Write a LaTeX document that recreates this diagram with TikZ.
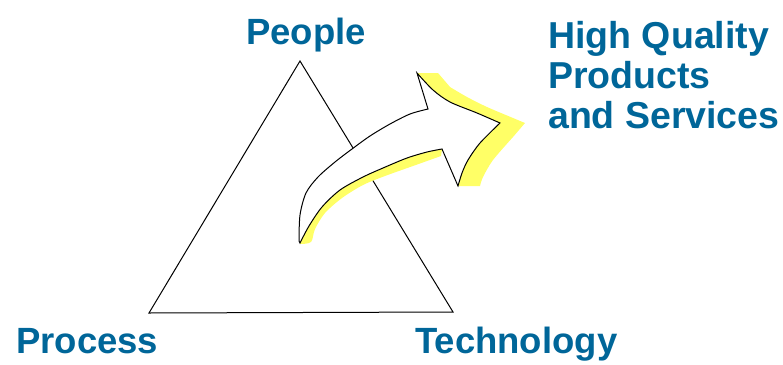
\documentclass[tikz,border=0pt]{standalone}
\usepackage{fontspec}
\setmainfont{Liberation Sans}
\definecolor{labelblue}{RGB}{0,102,153}
\definecolor{shadowyellow}{RGB}{255,255,102}
\begin{document}
\begin{tikzpicture}[x=1pt,y=-1pt,
        cornerlabel/.style={anchor=base west,inner sep=0pt,text=labelblue,
            font=\fontsize{36.5}{40}\selectfont\bfseries},
        goal/.style={anchor=base west,inner sep=0pt,text=labelblue,align=left,
            font=\fontsize{37.5}{40}\selectfont\bfseries}]
    \useasboundingbox (0,0) rectangle (783,364);
    % triangle
    \coordinate (apex) at (300,61);
    \coordinate (lowleft) at (149,313);
    \coordinate (lowright) at (453,312);
    \draw[line width=1pt] (apex) -- (lowleft) -- (lowright) -- cycle;
    % yellow shadow of the arrow
    \fill[shadowyellow] plot[smooth] coordinates {(442,149) (427,152) (407,158) (383,168) (363,177) (340,190) (322,207) (309,226) (300,243)}
        -- plot[smooth] coordinates {(300,244) (311,242) (315,229) (325,213) (342,198) (363,185) (385,176) (413,166) (441,156)} -- cycle;
    \fill[shadowyellow] (417,73) -- (438,73)
        -- plot[smooth] coordinates {(450,87) (467,97) (487,107) (513,118) (525,123)}
        -- plot[smooth] coordinates {(513,137) (493,160) (483,177) (480,186)}
        -- (458,186) -- (442,149) -- cycle;
    % arrow
    \filldraw[fill=white,draw=black,line width=1pt]
        plot[smooth] coordinates {(299,241) (300,215) (306,193) (318,177) (335,162) (352,149) (370,136) (390,124) (410,114) (428,109)}
        -- (417,73)
        -- plot[smooth] coordinates {(417,73) (433,90) (450,102) (477,113) (500,123)}
        -- plot[smooth] coordinates {(500,123) (480,143) (468,160) (462,173) (458,186)}
        -- (442,149)
        -- plot[smooth] coordinates {(442,149) (427,152) (407,158) (383,168) (363,177) (340,190) (322,207) (309,226) (300,243)}
        -- cycle;
    % labels
    \node[cornerlabel] (people) at (246,44) {People};
    \node[cornerlabel] (process) at (16,353) {Process};
    \node[cornerlabel] (technology) at (415,353) {Technology};
    \node[goal] (quality) at (548,128) {High Quality\\Products\\and Services};
\end{tikzpicture}
\end{document}
